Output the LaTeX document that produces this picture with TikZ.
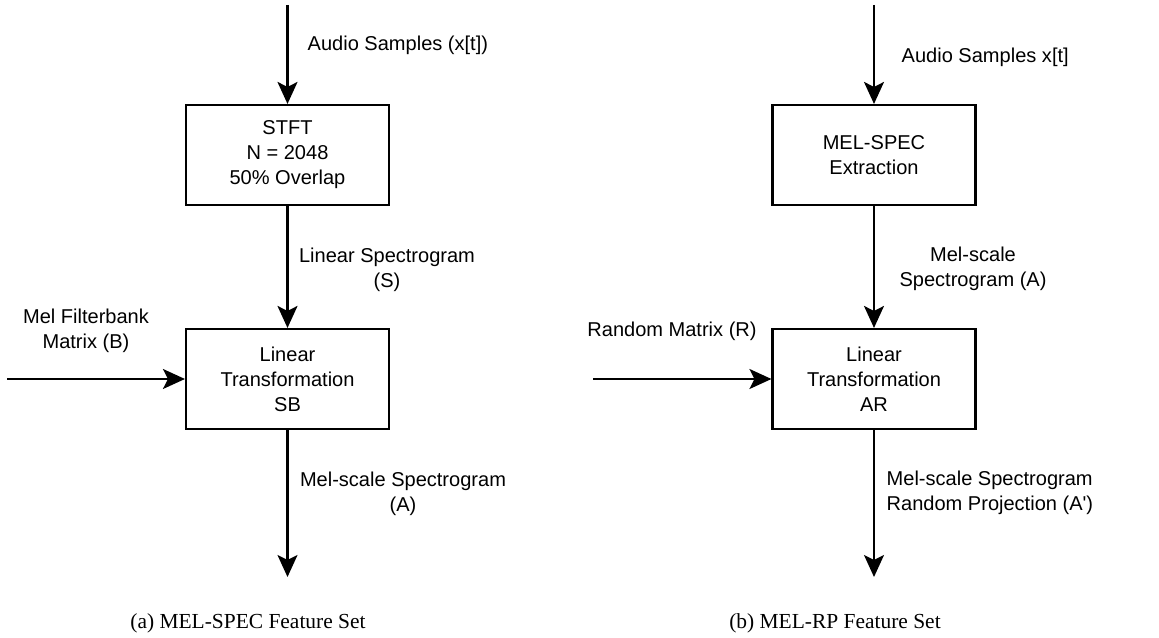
\documentclass[tikz,border=0pt]{standalone}
\usepackage{fontspec}
\setmainfont{Liberation Sans}
\newfontfamily\capfont{Liberation Serif}
\usetikzlibrary{arrows.meta}

\begin{document}
\begin{tikzpicture}[scale=1.0000]
	\tikzstyle{every node}=[scale=1.0000, font=\fontsize{11.4pt}{14.2pt}\selectfont]
	\tikzstyle{blockbox}=[draw, line width=1.2pt, minimum width=4.0600cm, minimum height=2.0000cm, align=center]
	\tikzstyle{arrowline}=[-{Stealth[length=0.4400cm, width=0.4000cm, inset=0.1000cm]}, line width=1.2000pt]
	\tikzstyle{caption}=[font=\capfont\fontsize{12.2pt}{14.6pt}\selectfont]
	\useasboundingbox (0.0000,0.0000) rectangle (23.1800,12.7600);

	%% (a) MEL-SPEC
	\coordinate (inA) at (5.7500,12.6600);
	\coordinate (matA) at (0.1400,5.1800);
	\coordinate (outA) at (5.7500,1.2200);
	\node [blockbox] (stftA) at (5.7500,9.6600) {STFT\\N = 2048\\50\% Overlap};
	\node [blockbox] (linA) at (5.7500,5.1800) {Linear\\Transformation\\SB};
	\draw [arrowline] (inA) -- (stftA);
	\draw [arrowline] (stftA) -- (linA);
	\draw [arrowline] (matA) -- (linA);
	\draw [arrowline] (linA) -- (outA);
	\node [anchor=west] (audioA) at (6.0300,11.8600) {Audio Samples (x[t])};
	\node [align=center] (specA) at (7.7400,7.3700) {Linear Spectrogram\\(S)};
	\node [align=center] (bankA) at (1.7200,6.1500) {Mel Filterbank\\Matrix (B)};
	\node [align=center] (melA) at (8.0600,2.8800) {Mel-scale Spectrogram\\(A)};
	\node [caption] (capA) at (4.9600,0.3000) {(a) MEL-SPEC Feature Set};

	%% (b) MEL-RP
	\coordinate (inB) at (17.4800,12.6600);
	\coordinate (matB) at (11.8600,5.1800);
	\coordinate (outB) at (17.4800,1.2200);
	\node [blockbox] (extB) at (17.4800,9.6600) {MEL-SPEC\\Extraction};
	\node [blockbox] (linB) at (17.4800,5.1800) {Linear\\Transformation\\AR};
	\draw [arrowline] (inB) -- (extB);
	\draw [arrowline] (extB) -- (linB);
	\draw [arrowline] (matB) -- (linB);
	\draw [arrowline] (linB) -- (outB);
	\node [anchor=west] (audioB) at (17.9100,11.6200) {Audio Samples x[t]};
	\node [align=center] (melB) at (19.4600,7.3900) {Mel-scale\\Spectrogram (A)};
	\node (randB) at (13.4400,6.1400) {Random Matrix (R)};
	\node [anchor=west, align=left] (projB) at (17.6100,2.9000) {Mel-scale Spectrogram\\Random Projection (A\textquotesingle)};
	\node [caption] (capB) at (16.7000,0.3000) {(b) MEL-RP Feature Set};

\end{tikzpicture}
\end{document}
